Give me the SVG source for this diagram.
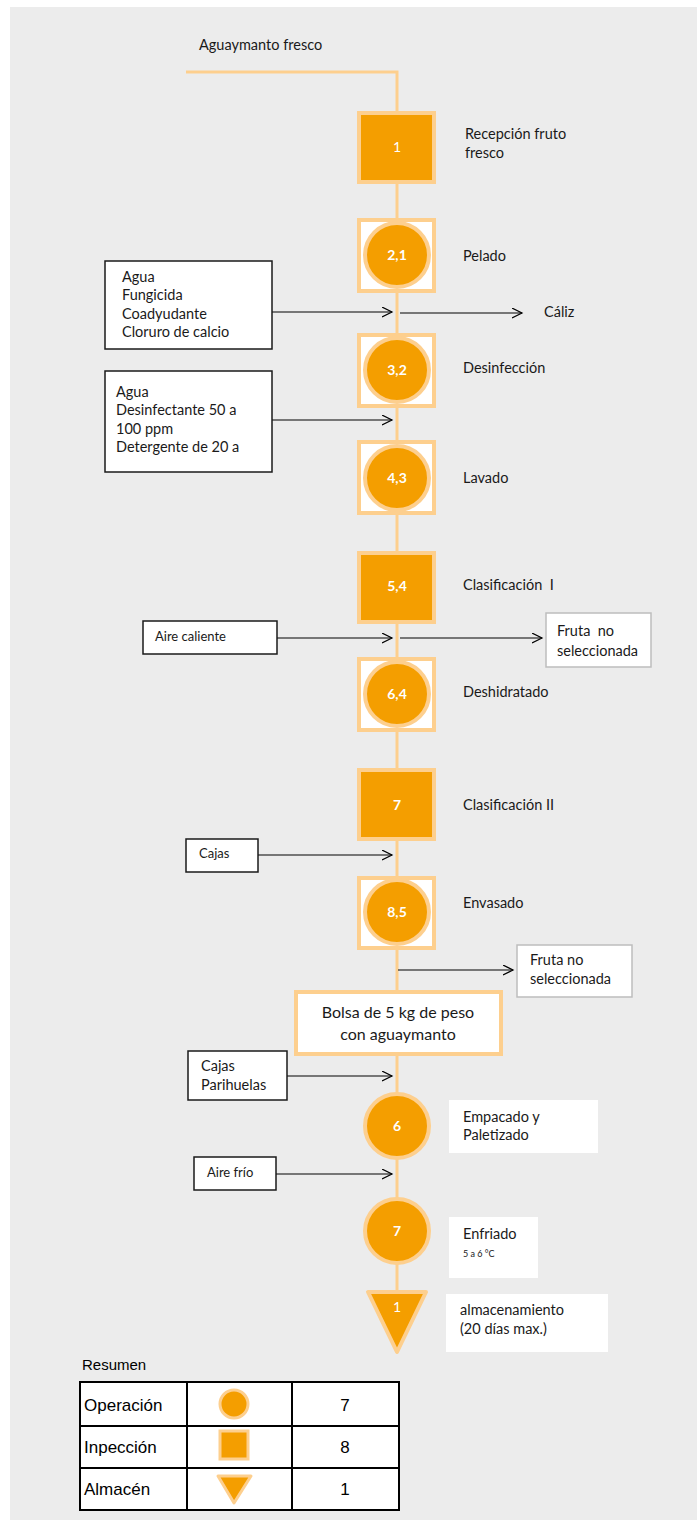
<svg xmlns="http://www.w3.org/2000/svg" width="697" height="1524" viewBox="0 0 697 1524">
<defs>
<marker id="arr" markerWidth="12" markerHeight="12" refX="10" refY="5" orient="auto" markerUnits="userSpaceOnUse">
<path d="M0,0 L10,5 L0,10" fill="none" stroke="#000" stroke-width="1.2"/>
</marker>
<style>
.t{font-family:Lato,"Open Sans",sans-serif;font-size:14.5px;fill:#1a1a1a}
.ts{font-family:Lato,"Open Sans",sans-serif;font-size:13px;fill:#1a1a1a}
.num{font-family:Lato,"Open Sans",sans-serif;font-size:14px;font-weight:bold;fill:#fff;text-anchor:middle}
.numr{font-family:Lato,"Open Sans",sans-serif;font-size:14px;fill:#fff;text-anchor:middle}
.sq{fill:#f49e00;stroke:#fdcf8e;stroke-width:4}
.osq{fill:#fff;stroke:#fdcf8e;stroke-width:4}
.cir{fill:#f49e00;stroke:#fdcf8e;stroke-width:4}
.box{fill:#fff;stroke:#1a1a1a;stroke-width:1.5}
.gbox{fill:#fff;stroke:#bdbdbd;stroke-width:1.5}
.wbox{fill:#fff;stroke:none}
.ar{stroke:#000;stroke-width:1.2;fill:none;marker-end:url(#arr)}
.tb{font-family:"Liberation Sans",Arial,sans-serif;font-size:17px;fill:#000}
</style>
</defs>
<rect x="0" y="0" width="697" height="1524" fill="#fff"/>
<rect x="10" y="7" width="687" height="1513" fill="#ececec"/>

<text class="t" x="199" y="50">Aguaymanto fresco</text>

<g id="connectors">
<polyline points="186,72 397,72 397,1292" fill="none" stroke="#fdcf8e" stroke-width="3"/>
<line class="ar" x1="272" y1="312" x2="392" y2="312"/>
<line class="ar" x1="400" y1="313" x2="522" y2="313"/>
<line class="ar" x1="272" y1="420" x2="392" y2="420"/>
<line class="ar" x1="277" y1="638" x2="392" y2="638"/>
<line class="ar" x1="400" y1="638" x2="542" y2="638"/>
<line class="ar" x1="258" y1="855" x2="392" y2="855"/>
<line class="ar" x1="398" y1="970" x2="513" y2="970"/>
<line class="ar" x1="287" y1="1076" x2="392" y2="1076"/>
<line class="ar" x1="276" y1="1174" x2="392" y2="1174"/>
</g>

<g id="n1">
<rect class="sq" x="359" y="113" width="75" height="69"/>
<text class="numr" x="397" y="152">1</text>
<text class="t" x="465" y="139">Recepción fruto</text>
<text class="t" x="465" y="158">fresco</text>
</g>

<g id="n2">
<rect class="osq" x="359" y="220" width="75" height="71"/>
<circle class="cir" cx="397" cy="255" r="32"/>
<text class="num" x="397" y="260">2,1</text>
<text class="t" x="463" y="261">Pelado</text>
</g>

<g id="in1">
<rect class="box" x="105" y="261" width="167" height="88"/>
<text class="t" x="122" y="282">Agua</text>
<text class="t" x="122" y="300">Fungicida</text>
<text class="t" x="122" y="319">Coadyudante</text>
<text class="t" x="122" y="337">Cloruro de calcio</text>
</g>

<g id="out1">
<text class="t" x="544" y="317">Cáliz</text>
</g>

<g id="n3">
<rect class="osq" x="359" y="335" width="75" height="71"/>
<circle class="cir" cx="397" cy="370" r="32"/>
<text class="num" x="397" y="375">3,2</text>
<text class="t" x="463" y="373">Desinfección</text>
</g>

<g id="in2">
<rect class="box" x="105" y="371" width="167" height="101"/>
<text class="t" x="116" y="397">Agua</text>
<text class="t" x="116" y="415">Desinfectante 50 a</text>
<text class="t" x="116" y="434">100 ppm</text>
<text class="t" x="116" y="452">Detergente de 20 a</text>
</g>

<g id="n4">
<rect class="osq" x="359" y="442" width="75" height="71"/>
<circle class="cir" cx="397" cy="478" r="32"/>
<text class="num" x="397" y="483">4,3</text>
<text class="t" x="463" y="483">Lavado</text>
</g>

<g id="n5">
<rect class="sq" x="359" y="553" width="75" height="69"/>
<text class="num" x="397" y="591">5,4</text>
<text class="t" x="463" y="590">Clasificación&#160;&#160;I</text>
</g>

<g id="in3">
<rect class="box" x="143" y="621" width="134" height="33"/>
<text class="ts" x="155" y="641">Aire caliente</text>
</g>

<g id="out2">
<rect class="gbox" x="546" y="613" width="105" height="54"/>
<text class="t" x="557" y="636">Fruta&#160;&#160;no</text>
<text class="t" x="557" y="656">seleccionada</text>
</g>

<g id="n6">
<rect class="osq" x="359" y="659" width="75" height="71"/>
<circle class="cir" cx="397" cy="694" r="32"/>
<text class="num" x="397" y="699">6,4</text>
<text class="t" x="463" y="697">Deshidratado</text>
</g>

<g id="n7">
<rect class="sq" x="359" y="770" width="75" height="69"/>
<text class="num" x="397" y="810">7</text>
<text class="t" x="463" y="810">Clasificación II</text>
</g>

<g id="in4">
<rect class="box" x="186" y="839" width="72" height="33"/>
<text class="ts" x="199" y="858">Cajas</text>
</g>

<g id="n8">
<rect class="osq" x="359" y="878" width="75" height="70"/>
<circle class="cir" cx="397" cy="912" r="32"/>
<text class="num" x="397" y="917">8,5</text>
<text class="t" x="463" y="908">Envasado</text>
</g>

<g id="out3">
<rect class="gbox" x="517" y="945" width="115" height="52"/>
<text class="t" x="530" y="965">Fruta no</text>
<text class="t" x="530" y="984">seleccionada</text>
</g>

<g id="bolsa">
<rect class="osq" x="296" y="992" width="205" height="62"/>
<text class="t" x="398" y="1018" text-anchor="middle" style="font-size:16px">Bolsa de 5 kg de peso</text>
<text class="t" x="398" y="1040" text-anchor="middle" style="font-size:16px">con aguaymanto</text>
</g>

<g id="in5">
<rect class="box" x="188" y="1051" width="99" height="49"/>
<text class="t" x="201" y="1071">Cajas</text>
<text class="t" x="201" y="1090">Parihuelas</text>
</g>

<g id="n9">
<circle class="cir" cx="397" cy="1126" r="32"/>
<text class="num" x="397" y="1131">6</text>
<rect class="wbox" x="449" y="1100" width="149" height="53"/>
<text class="t" x="463" y="1122">Empacado y</text>
<text class="t" x="463" y="1140">Paletizado</text>
</g>

<g id="in6">
<rect class="box" x="194" y="1157" width="82" height="33"/>
<text class="ts" x="207" y="1177">Aire frío</text>
</g>

<g id="n10">
<circle class="cir" cx="397" cy="1231" r="32"/>
<text class="num" x="397" y="1236">7</text>
<rect class="wbox" x="449" y="1217" width="89" height="61"/>
<text class="t" x="463" y="1239">Enfriado</text>
<text class="t" x="463" y="1257" style="font-size:9px">5 a 6 °C</text>
</g>

<g id="n11">
<polygon points="368,1292 426,1292 397,1352" fill="#f49e00" stroke="#fdcf8e" stroke-width="4" stroke-linejoin="round"/>
<text class="numr" x="397" y="1312">1</text>
<rect class="wbox" x="446" y="1294" width="162" height="58"/>
<text class="t" x="460" y="1315">almacenamiento</text>
<text class="t" x="460" y="1334">(20 días max.)</text>
</g>

<g id="resumen">
<text x="82" y="1370" style="font-family:'Liberation Sans',Arial,sans-serif;font-size:15px;fill:#000">Resumen</text>
<rect x="80" y="1382" width="319" height="128" fill="#fff" stroke="#000" stroke-width="2"/>
<line x1="80" y1="1426" x2="399" y2="1426" stroke="#000" stroke-width="2"/>
<line x1="80" y1="1468" x2="399" y2="1468" stroke="#000" stroke-width="2"/>
<line x1="187" y1="1382" x2="187" y2="1510" stroke="#000" stroke-width="2"/>
<line x1="292" y1="1382" x2="292" y2="1510" stroke="#000" stroke-width="2"/>
<text class="tb" x="84" y="1411">Operación</text>
<text class="tb" x="84" y="1453">Inpección</text>
<text class="tb" x="84" y="1495">Almacén</text>
<text class="tb" x="345" y="1411" text-anchor="middle">7</text>
<text class="tb" x="345" y="1453" text-anchor="middle">8</text>
<text class="tb" x="345" y="1495" text-anchor="middle">1</text>
<circle cx="234" cy="1404" r="14" fill="#f49e00" stroke="#fdcf8e" stroke-width="3"/>
<rect x="220" y="1431" width="28" height="28" fill="#f49e00" stroke="#fdcf8e" stroke-width="3"/>
<polygon points="218,1476 251,1476 234,1503" fill="#f49e00" stroke="#fdcf8e" stroke-width="3" stroke-linejoin="round"/>
</g>
</svg>
